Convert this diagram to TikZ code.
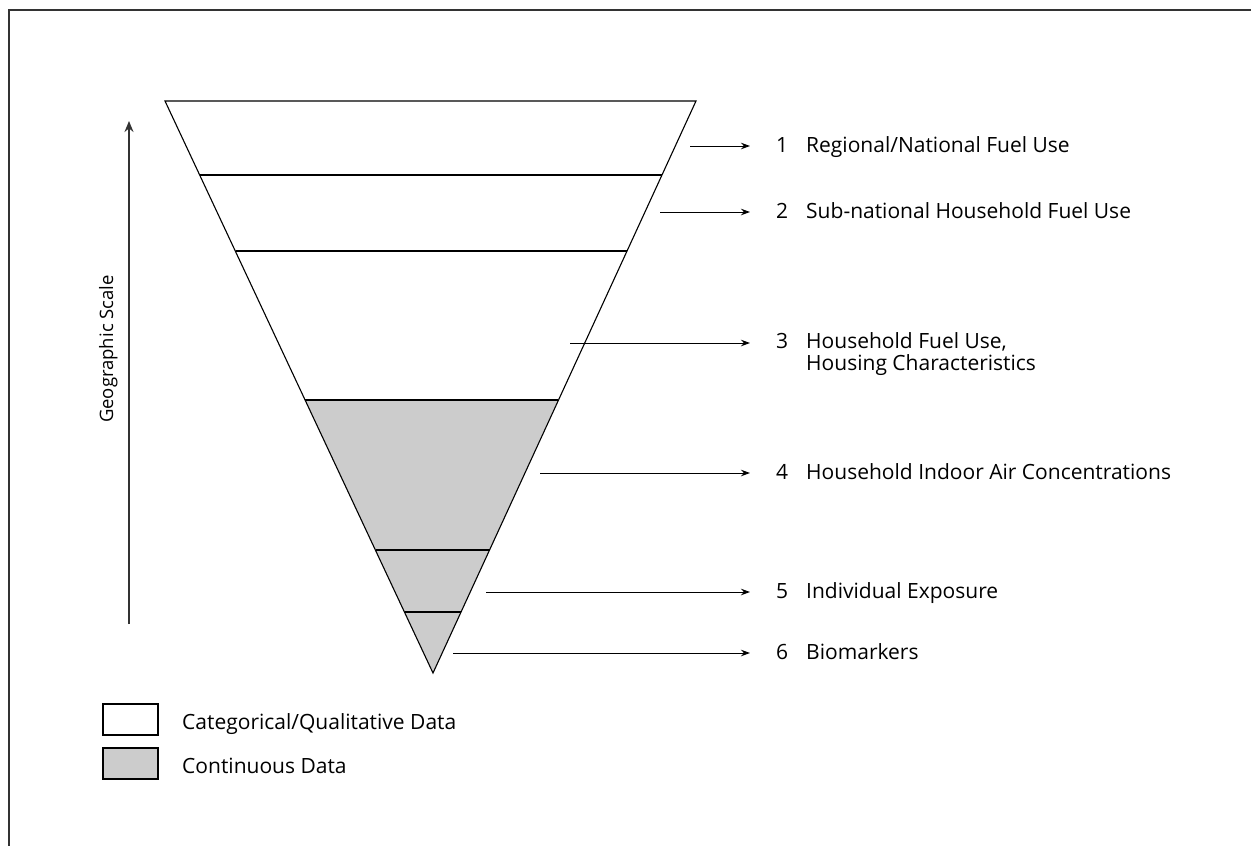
\documentclass[tikz,border=0pt]{standalone}
\usepackage{fontspec}
\setmainfont{Open Sans}
\usetikzlibrary{arrows.meta}
\definecolor{bandgrey}{HTML}{CCCCCC}
\definecolor{framegrey}{HTML}{333333}
\begin{document}
\begin{tikzpicture}[x=1pt,y=-1pt,
  band/.style={draw=black,line width=1.1pt,line join=miter},
  pointer/.style={draw=black,line width=1pt,-{Stealth[length=9pt,width=6.5pt]}},
  numlabel/.style={anchor=base west,inner sep=0pt,font=\fontsize{21}{21}\selectfont},
  textlabel/.style={anchor=base west,inner sep=0pt,font=\fontsize{21}{21}\selectfont},
  legbox/.style={draw=black,line width=1.1pt,minimum width=55pt,minimum height=31pt,inner sep=0pt}]
\useasboundingbox (0,0) rectangle (1251,846);
% frame
\draw[framegrey,line width=1.5pt] (1251,10) -- (9,10) -- (9,846);
% band coordinates
\coordinate (t0l) at (165,101);  \coordinate (t0r) at (696,101);
\coordinate (t1l) at (200,175);  \coordinate (t1r) at (662,175);
\coordinate (t2l) at (235.5,251);\coordinate (t2r) at (627,251);
\coordinate (t3l) at (305,400);  \coordinate (t3r) at (558,400);
\coordinate (t4l) at (375.5,550);\coordinate (t4r) at (490,550);
\coordinate (t5l) at (404.5,612);\coordinate (t5r) at (461,612);
\coordinate (apex) at (433,673);
% shaded part
\fill[bandgrey] (t3l) -- (t3r) -- (apex) -- cycle;
% outline and dividers
\draw[band] (t0l) -- (t0r) -- (apex) -- cycle;
\draw[band] (t1l) -- (t1r);
\draw[band] (t2l) -- (t2r);
\draw[band] (t3l) -- (t3r);
\draw[band] (t4l) -- (t4r);
\draw[band] (t5l) -- (t5r);
% labels
\node[numlabel] (n1) at (776,152) {1};
\node[textlabel] (l1) at (806,152) {Regional/National Fuel Use};
\node[numlabel] (n2) at (776,218) {2};
\node[textlabel] (l2) at (806,218) {Sub-national Household Fuel Use};
\node[numlabel] (n3) at (776,348) {3};
\node[textlabel] (l3) at (806,348) {\begin{tabular}[t]{@{}l@{}}Household Fuel Use,\\[0pt]Housing Characteristics\end{tabular}};
\node[numlabel] (n4) at (776,479) {4};
\node[textlabel] (l4) at (806,479) {Household Indoor Air Concentrations};
\node[numlabel] (n5) at (776,598) {5};
\node[textlabel] (l5) at (806,598) {Individual Exposure};
\node[numlabel] (n6) at (776,659) {6};
\node[textlabel] (l6) at (806,659) {Biomarkers};
% arrows
\coordinate (s1) at (690,146);  \coordinate (e1) at (750,146);
\coordinate (s2) at (660,212);  \coordinate (e2) at (750,212);
\coordinate (s3) at (570,343);  \coordinate (e3) at (750,343);
\coordinate (s4) at (540,473);  \coordinate (e4) at (750,473);
\coordinate (s5) at (486,592);  \coordinate (e5) at (750,592);
\coordinate (s6) at (453,653);  \coordinate (e6) at (750,653);
\foreach \i in {1,...,6} {\draw[pointer] (s\i) -- (e\i);}
% geographic scale
\coordinate (gs) at (129,624);
\coordinate (ge) at (129,121);
\draw[draw=framegrey,line width=1.5pt,-{Stealth[length=11pt,width=9pt]}] (gs) -- (ge);
\node[rotate=90,anchor=base,inner sep=0pt,font=\fontsize{18.5}{22}\selectfont] (gl) at (113,349) {Geographic Scale};
% legend
\node[legbox,fill=white] (lb1) at (130.5,719.5) {};
\node[legbox,fill=bandgrey] (lb2) at (130.5,763.5) {};
\node[textlabel] (lt1) at (182,729) {Categorical/Qualitative Data};
\node[textlabel] (lt2) at (182,773) {Continuous Data};
\end{tikzpicture}
\end{document}
